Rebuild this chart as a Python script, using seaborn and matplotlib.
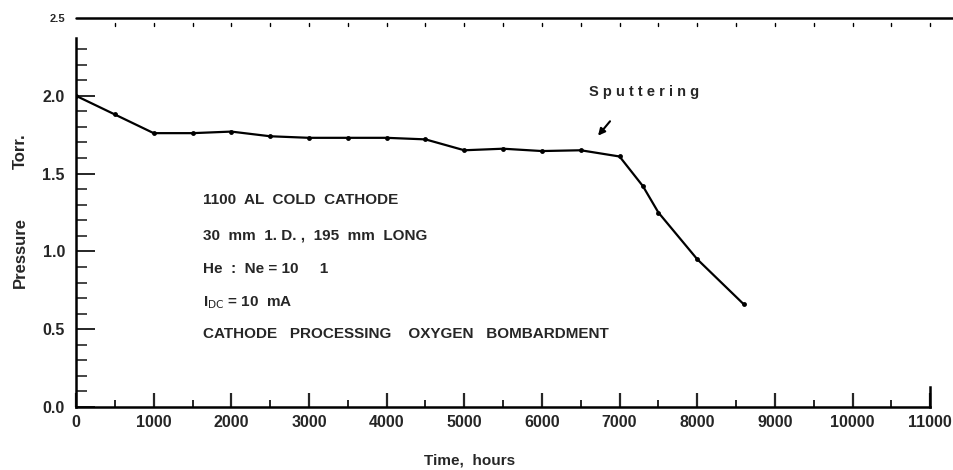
import numpy as np
import pandas as pd
import matplotlib
matplotlib.use("Agg")
import matplotlib.pyplot as plt
import seaborn as sns

# values
time_hours = [0, 500, 1000, 1500, 2000, 2500, 3000, 3500, 4000, 4500,
              5000, 5500, 6000, 6500, 7000, 7300, 7500, 8000, 8600]
pressure_torr = [2.00, 1.88, 1.76, 1.76, 1.77, 1.74, 1.73, 1.73, 1.73, 1.72,
                 1.65, 1.66, 1.645, 1.65, 1.61, 1.42, 1.25, 0.95, 0.66]
x_ticks = list(range(0, 11001, 1000))
y_ticks = [0.0, 0.5, 1.0, 1.5, 2.0, 2.5]
notes = ["1100  AL  COLD  CATHODE",
         "30  mm  1. D. ,  195  mm  LONG",
         "He  :  Ne = 10     1",
         r"I$_{\rm DC}$ = 10  mA",
         "CATHODE   PROCESSING    OXYGEN   BOMBARDMENT"]

sns.set_theme(style="ticks")
plt.rcParams['font.family'] = ['Liberation Sans', 'DejaVu Sans']

df = pd.DataFrame({'time': time_hours, 'pressure': pressure_torr})

fig = plt.figure(figsize=(9.54, 4.7), dpi=100)
ax = fig.add_axes([0.0797, 0.134, 0.8953, 0.8277])

sns.lineplot(data=df, x='time', y='pressure', ax=ax, color='black', lw=1.6,
             marker='o', markersize=3.5, markeredgewidth=0, sort=False)

ax.set_xlim(0, 11000)
ax.set_ylim(0, 2.5)
ax.set_xlabel('')
ax.set_ylabel('')

# axes frame: partial, like the scan
for s in ['left', 'bottom', 'right']:
    ax.spines[s].set_linewidth(1.8)
    ax.spines[s].set_color('black')
ax.spines['top'].set_visible(False)
ax.spines['left'].set_bounds(0, 2.37)
ax.spines['right'].set_bounds(0, 0.13)
ax.plot([0, 11300], [2.5, 2.5], color='black', lw=1.8, clip_on=False)
for xt in np.arange(500, 11001, 500):
    ax.plot([xt, xt], [2.47, 2.45], color='black', lw=1.0, clip_on=False)

ax.set_xticks(x_ticks)
ax.set_xticklabels([str(t) for t in x_ticks], fontsize=11.5, fontweight='bold')
ax.set_xticks(np.arange(500, 11000, 1000), minor=True)
ax.set_yticks(y_ticks)
ax.set_yticklabels([f'{t:.1f}' for t in y_ticks], fontsize=11.5, fontweight='bold')
ax.set_yticks(np.arange(0.1, 2.35, 0.1), minor=True)
ax.tick_params(axis='x', which='major', direction='in', length=10, width=1.6, pad=6)
ax.tick_params(axis='x', which='minor', direction='in', length=5, width=1.4)
ax.tick_params(axis='y', which='major', direction='in', length=14, width=1.4, pad=8)
ax.tick_params(axis='y', which='minor', direction='in', length=8, width=1.2)
ax.tick_params(axis='y', which='major', right=False)
ax.yaxis.get_major_ticks()[-1].tick1line.set_visible(False)
ax.yaxis.get_major_ticks()[-1].label1.set_fontsize(8)

fig.text(0.492, 0.005, 'Time,  hours', ha='center', va='bottom', fontsize=11,
         fontweight='bold')
fig.text(0.021, 1 - 252 / 470, 'Pressure', rotation=90, ha='center',
         va='center', fontsize=12, fontweight='bold')
fig.text(0.021, 1 - 151 / 470, 'Torr.', rotation=90, ha='center',
         va='center', fontsize=12, fontweight='bold')

ax.annotate('S p u t t e r i n g', xy=(6700, 1.74), xytext=(6600, 1.98),
            fontsize=10.5, fontweight='bold', ha='left', va='bottom')
ax.annotate('', xy=(6700, 1.73), xytext=(6900, 1.85),
            arrowprops=dict(arrowstyle='-|>', color='black', lw=1.5,
                            mutation_scale=10))

note_y = [1.33, 1.10, 0.89, 0.67, 0.47]
for txt, yy in zip(notes, note_y):
    ax.text(1630, yy, txt, fontsize=11, fontweight='bold', va='center', ha='left')

fig.savefig('out.png', dpi=100)
